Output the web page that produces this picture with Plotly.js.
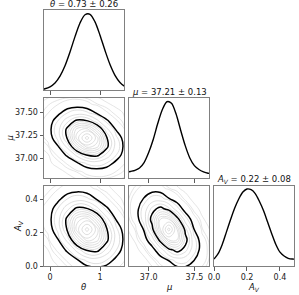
<!DOCTYPE html>
<html><head><meta charset="utf-8">
<script src="https://cdn.plot.ly/plotly-3.0.1.min.js"></script>
<style>html,body{margin:0;padding:0;background:#fff}#plot{width:299px;height:295px}</style>
</head><body><div id="plot"></div>
<script>
// ---- labels ----
const axisLabels = ['<i>θ</i>', '<i>μ</i>', '<i>A</i><sub><i>V</i></sub>'];
const diagTitles = ['<i>θ</i> = 0.73 ± 0.26', '<i>μ</i> = 37.21 ± 0.13', '<i>A</i><sub><i>V</i></sub> = 0.22 ± 0.08'];
const thetaTicks = [0, 1];
const thetaTickText = ['0', '1'];
const muTicksX = [37.0, 37.5];
const muTickTextX = ['37.0', '37.5'];
const muTicksY = [37.0, 37.25, 37.5];
const muTickTextY = ['37.00', '37.25', '37.50'];
const avTicks = [0, 0.2, 0.4];
const avTickText = ['0.0', '0.2', '0.4'];

// ---- 1D marginals (normalised density) ----
const thetaX = [-0.2, -0.1, 0.0, 0.1, 0.2, 0.3, 0.4, 0.5, 0.6, 0.7, 0.8, 0.9, 1.0, 1.1, 1.2, 1.3, 1.4, 1.5, 1.6];
const thetaPdf = [0.006, 0.017, 0.042, 0.092, 0.181, 0.317, 0.497, 0.697, 0.875, 0.983, 0.989, 0.890, 0.716, 0.516, 0.333, 0.192, 0.099, 0.046, 0.02];

const muX = [36.75, 36.80, 36.85, 36.90, 36.95, 37.00, 37.05, 37.10, 37.15, 37.20, 37.25, 37.30, 37.35, 37.40, 37.45, 37.50, 37.55, 37.60, 37.65, 37.70];
const muPdf = [0.07, 0.085, 0.10, 0.13, 0.20, 0.33, 0.50, 0.71, 0.89, 0.99, 0.97, 0.83, 0.62, 0.42, 0.26, 0.16, 0.11, 0.08, 0.062, 0.055];

const avX = [0, 0.025, 0.05, 0.075, 0.10, 0.125, 0.15, 0.175, 0.20, 0.225, 0.25, 0.275, 0.30, 0.325, 0.35, 0.375, 0.40, 0.425, 0.45, 0.475, 0.50];
const avPdf = [0.09, 0.16, 0.28, 0.44, 0.60, 0.75, 0.87, 0.96, 1.0, 0.99, 0.94, 0.84, 0.72, 0.57, 0.42, 0.28, 0.18, 0.13, 0.10, 0.09, 0.09];

// ---- 2D density grids (relative density) ----
const thetaGrid = [-0.24, -0.04, 0.15, 0.35, 0.54, 0.74, 0.94, 1.13, 1.33, 1.52, 1.72];
const muGrid = [36.765, 36.856, 36.947, 37.038, 37.129, 37.22, 37.311, 37.402, 37.493, 37.584, 37.675];
const avGrid = [-0.088, -0.026, 0.035, 0.097, 0.158, 0.22, 0.282, 0.343, 0.405, 0.466, 0.528];

const zThetaMu = [
  [0.0008, 0.0012, 0.0015, 0.0022, 0.003, 0.004, 0.005, 0.0045, 0.0035, 0.002, 0.0012],
  [0.001, 0.0018, 0.0025, 0.004, 0.008, 0.016, 0.022, 0.019, 0.011, 0.006, 0.002],
  [0.0015, 0.0028, 0.0045, 0.013, 0.0417, 0.0887, 0.110, 0.0796, 0.0336, 0.010, 0.004],
  [0.002, 0.003, 0.013, 0.0608, 0.188, 0.341, 0.359, 0.221, 0.0796, 0.019, 0.005],
  [0.003, 0.007, 0.0417, 0.188, 0.497, 0.764, 0.686, 0.359, 0.110, 0.022, 0.006],
  [0.004, 0.016, 0.0887, 0.341, 0.764, 1.0, 0.764, 0.341, 0.0887, 0.016, 0.004],
  [0.006, 0.022, 0.110, 0.359, 0.686, 0.764, 0.497, 0.188, 0.0417, 0.007, 0.003],
  [0.005, 0.019, 0.0796, 0.221, 0.359, 0.341, 0.188, 0.0608, 0.013, 0.0035, 0.002],
  [0.0045, 0.011, 0.0336, 0.0796, 0.110, 0.0887, 0.0417, 0.013, 0.0045, 0.003, 0.0015],
  [0.003, 0.007, 0.011, 0.019, 0.022, 0.016, 0.008, 0.004, 0.0028, 0.0018, 0.001],
  [0.0012, 0.0025, 0.004, 0.0045, 0.005, 0.004, 0.003, 0.0022, 0.0015, 0.0012, 0.0008]
];
const zThetaAv = [
  [0.001, 0.0012, 0.0016, 0.0025, 0.0035, 0.005, 0.006, 0.005, 0.0035, 0.0022, 0.0012],
  [0.0012, 0.0018, 0.0025, 0.0045, 0.009, 0.017, 0.022, 0.018, 0.010, 0.005, 0.0022],
  [0.0016, 0.0025, 0.0045, 0.013, 0.0417, 0.0887, 0.110, 0.0796, 0.0336, 0.009, 0.0035],
  [0.002, 0.0035, 0.013, 0.0608, 0.188, 0.341, 0.359, 0.221, 0.0796, 0.018, 0.005],
  [0.0028, 0.007, 0.0417, 0.188, 0.497, 0.764, 0.686, 0.359, 0.110, 0.021, 0.006],
  [0.004, 0.015, 0.0887, 0.341, 0.764, 1.0, 0.764, 0.341, 0.0887, 0.015, 0.004],
  [0.005, 0.021, 0.110, 0.359, 0.686, 0.764, 0.497, 0.188, 0.0417, 0.007, 0.0028],
  [0.006, 0.019, 0.0796, 0.221, 0.359, 0.341, 0.188, 0.0608, 0.013, 0.0035, 0.002],
  [0.005, 0.010, 0.0336, 0.0796, 0.110, 0.0887, 0.0417, 0.013, 0.0045, 0.0025, 0.0016],
  [0.0028, 0.006, 0.010, 0.018, 0.022, 0.017, 0.009, 0.0045, 0.0025, 0.0018, 0.0012],
  [0.0012, 0.0022, 0.0035, 0.005, 0.006, 0.005, 0.0035, 0.0025, 0.0016, 0.0012, 0.001]
];
const zMuAv = [
  [0.0005, 0.0008, 0.001, 0.0015, 0.002, 0.003, 0.004, 0.005, 0.004, 0.003, 0.002],
  [0.0008, 0.001, 0.0015, 0.0025, 0.004, 0.008, 0.017, 0.021, 0.017, 0.008, 0.003],
  [0.001, 0.0015, 0.0025, 0.005, 0.017, 0.0529, 0.102, 0.102, 0.0529, 0.017, 0.005],
  [0.0015, 0.0025, 0.005, 0.022, 0.102, 0.271, 0.375, 0.271, 0.102, 0.022, 0.005],
  [0.002, 0.004, 0.017, 0.102, 0.375, 0.721, 0.721, 0.375, 0.102, 0.017, 0.004],
  [0.003, 0.008, 0.0529, 0.271, 0.721, 1.0, 0.721, 0.271, 0.0529, 0.008, 0.003],
  [0.004, 0.017, 0.102, 0.375, 0.721, 0.721, 0.375, 0.102, 0.017, 0.004, 0.002],
  [0.005, 0.022, 0.102, 0.271, 0.375, 0.271, 0.102, 0.022, 0.005, 0.0025, 0.0015],
  [0.005, 0.017, 0.0529, 0.102, 0.102, 0.0529, 0.017, 0.005, 0.0025, 0.0015, 0.001],
  [0.003, 0.009, 0.017, 0.021, 0.017, 0.008, 0.004, 0.0025, 0.0015, 0.001, 0.0008],
  [0.002, 0.003, 0.004, 0.005, 0.004, 0.003, 0.002, 0.0015, 0.001, 0.0008, 0.0005]
];

// ---- geometry ----
const W = 299, H = 295;
const colsPx = [[44, 124], [129, 209], [214, 294]];
const rowsPx = [[10, 90], [97.5, 178], [185.5, 266]];
const xd = c => [colsPx[c][0] / W, colsPx[c][1] / W];
const yd = r => [(H - rowsPx[r][1]) / H, (H - rowsPx[r][0]) / H];
const thetaRange = [-0.12, 1.48];
const muRange = [36.785, 37.66];
const avRange = [0, 0.485];
const pdfRange = [0, 1.045];

const FONT = 'DejaVu Sans, sans-serif';
function axis(domain, range, anchor, extra) {
  return Object.assign({
    domain, range, anchor, showgrid: false, zeroline: false, showline: true, mirror: true,
    linecolor: '#808080', linewidth: 1, ticks: 'outside', ticklen: 3.5, tickwidth: 0.8,
    tickcolor: '#333', tickfont: {size: 8, color: '#222', family: FONT}, fixedrange: true,
    automargin: false, tickmode: 'array'
  }, extra);
}
const noY = {ticks: '', showticklabels: false};

function marginal(x, y, xa, ya) {
  return {type: 'scatter', mode: 'lines', x, y, xaxis: xa, yaxis: ya,
    line: {color: '#000', width: 1.4, shape: 'spline', smoothing: 0.8}, hoverinfo: 'skip'};
}
function contours2d(x, y, z, xa, ya) {
  const base = {type: 'contour', x, y, z, xaxis: xa, yaxis: ya, showscale: false, hoverinfo: 'skip'};
  return [
    Object.assign({}, base, {contours: {coloring: 'none', start: 0.0035, end: 0.012, size: 0.004},
      line: {color: '#d8d8d8', width: 0.7, smoothing: 1.3}}),
    Object.assign({}, base, {contours: {coloring: 'none', start: 0.08, end: 0.97, size: 0.08},
      line: {color: '#d0d0d0', width: 0.7, smoothing: 1.3}}),
    Object.assign({}, base, {contours: {coloring: 'none', start: 0.05, end: 0.32, size: 0.27},
      line: {color: '#000', width: 1.5, smoothing: 1.3}})
  ];
}

const data = [
  marginal(thetaX, thetaPdf, 'x', 'y'),
  ...contours2d(thetaGrid, muGrid, zThetaMu, 'x2', 'y2'),
  marginal(muX, muPdf, 'x3', 'y3'),
  ...contours2d(thetaGrid, avGrid, zThetaAv, 'x4', 'y4'),
  ...contours2d(muGrid, avGrid, zMuAv, 'x5', 'y5'),
  marginal(avX, avPdf, 'x6', 'y6')
];

function ann(text, px, py, extra) {
  return Object.assign({text, x: px / W, y: (H - py) / H, xref: 'paper', yref: 'paper',
    xanchor: 'center', yanchor: 'middle', showarrow: false,
    font: {size: 8.5, color: '#111', family: FONT}}, extra);
}

const layout = {
  width: W, height: H, margin: {l: 0, r: 0, t: 0, b: 0},
  paper_bgcolor: '#fff', plot_bgcolor: '#fff', showlegend: false,
  font: {family: FONT, size: 8, color: '#222'},
  xaxis: axis(xd(0), thetaRange, 'y', {tickvals: thetaTicks, showticklabels: false}),
  yaxis: axis(yd(0), pdfRange, 'x', noY),
  xaxis2: axis(xd(0), thetaRange, 'y2', {tickvals: thetaTicks, showticklabels: false}),
  yaxis2: axis(yd(1), muRange, 'x2', {tickvals: muTicksY, ticktext: muTickTextY}),
  xaxis3: axis(xd(1), muRange, 'y3', {tickvals: muTicksX, showticklabels: false}),
  yaxis3: axis(yd(1), pdfRange, 'x3', noY),
  xaxis4: axis(xd(0), thetaRange, 'y4', {tickvals: thetaTicks, ticktext: thetaTickText}),
  yaxis4: axis(yd(2), avRange, 'x4', {tickvals: avTicks, ticktext: avTickText}),
  xaxis5: axis(xd(1), muRange, 'y5', {tickvals: muTicksX, ticktext: muTickTextX}),
  yaxis5: axis(yd(2), avRange, 'x5', noY),
  xaxis6: axis(xd(2), avRange, 'y6', {tickvals: avTicks, ticktext: avTickText}),
  yaxis6: axis(yd(2), pdfRange, 'x6', noY),
  annotations: [
    ann(diagTitles[0], 84, 4.5),
    ann(diagTitles[1], 169, 92),
    ann(diagTitles[2], 254, 179.5),
    ann(axisLabels[0], 84, 287),
    ann(axisLabels[1], 169, 287),
    ann(axisLabels[2], 254, 287),
    ann(axisLabels[1], 9.5, 138, {textangle: -90}),
    ann(axisLabels[2], 18, 226, {textangle: -90})
  ]
};

Plotly.newPlot('plot', data, layout, {staticPlot: true, displayModeBar: false});
</script></body></html>
